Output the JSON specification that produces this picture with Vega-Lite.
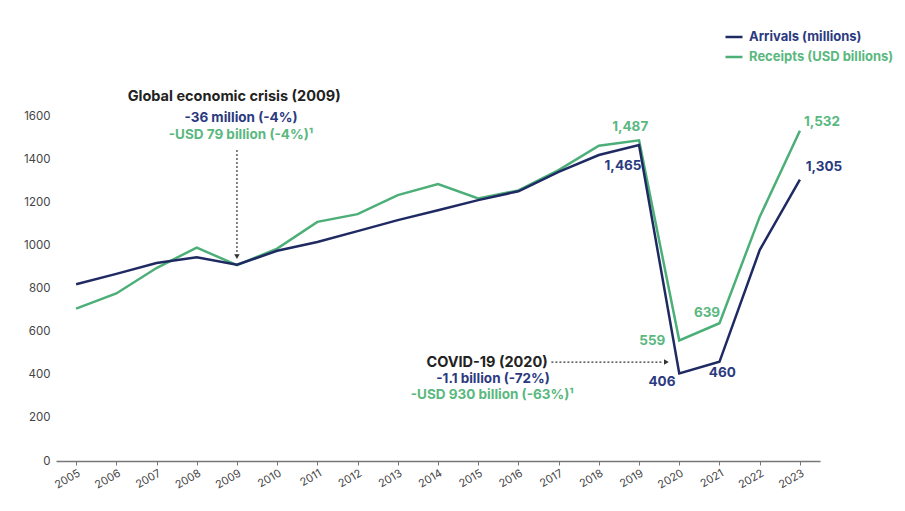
{
  "$schema": "https://vega.github.io/schema/vega-lite/v6.json",
  "width": 764,
  "height": 345,
  "autosize": {"type": "none"},
  "padding": {"left": 56, "top": 116, "right": 85, "bottom": 50},
  "background": "white",
  "config": {"view": {"stroke": null}, "font": "Inter"},
  "datasets": {
    "series": [
      {"year": 2005, "series": "Arrivals (millions)", "value": 820},
      {"year": 2006, "series": "Arrivals (millions)", "value": 868},
      {"year": 2007, "series": "Arrivals (millions)", "value": 918},
      {"year": 2008, "series": "Arrivals (millions)", "value": 945},
      {"year": 2009, "series": "Arrivals (millions)", "value": 910},
      {"year": 2010, "series": "Arrivals (millions)", "value": 975},
      {"year": 2011, "series": "Arrivals (millions)", "value": 1016},
      {"year": 2012, "series": "Arrivals (millions)", "value": 1066},
      {"year": 2013, "series": "Arrivals (millions)", "value": 1117},
      {"year": 2014, "series": "Arrivals (millions)", "value": 1163},
      {"year": 2015, "series": "Arrivals (millions)", "value": 1210},
      {"year": 2016, "series": "Arrivals (millions)", "value": 1251},
      {"year": 2017, "series": "Arrivals (millions)", "value": 1341},
      {"year": 2018, "series": "Arrivals (millions)", "value": 1419},
      {"year": 2019, "series": "Arrivals (millions)", "value": 1465},
      {"year": 2020, "series": "Arrivals (millions)", "value": 406},
      {"year": 2021, "series": "Arrivals (millions)", "value": 460},
      {"year": 2022, "series": "Arrivals (millions)", "value": 978},
      {"year": 2023, "series": "Arrivals (millions)", "value": 1305},
      {"year": 2005, "series": "Receipts (USD billions)", "value": 707},
      {"year": 2006, "series": "Receipts (USD billions)", "value": 777},
      {"year": 2007, "series": "Receipts (USD billions)", "value": 895},
      {"year": 2008, "series": "Receipts (USD billions)", "value": 990},
      {"year": 2009, "series": "Receipts (USD billions)", "value": 908},
      {"year": 2010, "series": "Receipts (USD billions)", "value": 985},
      {"year": 2011, "series": "Receipts (USD billions)", "value": 1109},
      {"year": 2012, "series": "Receipts (USD billions)", "value": 1145},
      {"year": 2013, "series": "Receipts (USD billions)", "value": 1233},
      {"year": 2014, "series": "Receipts (USD billions)", "value": 1284},
      {"year": 2015, "series": "Receipts (USD billions)", "value": 1218},
      {"year": 2016, "series": "Receipts (USD billions)", "value": 1255},
      {"year": 2017, "series": "Receipts (USD billions)", "value": 1349},
      {"year": 2018, "series": "Receipts (USD billions)", "value": 1462},
      {"year": 2019, "series": "Receipts (USD billions)", "value": 1487},
      {"year": 2020, "series": "Receipts (USD billions)", "value": 559},
      {"year": 2021, "series": "Receipts (USD billions)", "value": 639},
      {"year": 2022, "series": "Receipts (USD billions)", "value": 1132},
      {"year": 2023, "series": "Receipts (USD billions)", "value": 1532}
    ],
    "arrows": [
      {"name": "crisis", "year": 2009, "year2": 2009, "value": 1442, "value2": 958},
      {"name": "covid", "year": 2016.82, "year2": 2019.6, "value": 459, "value2": 459}
    ],
    "heads": [
      {"name": "crisis", "year": 2009, "value": 948},
      {"name": "covid", "year": 2019.68, "value": 459}
    ],
    "notes": [
      {"year": 2008.93, "value": 1688, "text": "Global economic crisis (2009)", "group": "title"},
      {"year": 2009.1, "value": 1591, "text": "-36 million (-4%)", "group": "arrivals"},
      {"year": 2009.1, "value": 1512, "text": "-USD 79 billion (-4%)¹", "group": "receipts"},
      {"year": 2015.22, "value": 455, "text": "COVID-19 (2020)", "group": "title"},
      {"year": 2015.37, "value": 380, "text": "-1.1 billion (-72%)", "group": "arrivals"},
      {"year": 2015.35, "value": 306, "text": "-USD 930 billion (-63%)¹", "group": "receipts"},
      {"year": 2018.78, "value": 1549, "text": "1,487", "group": "receipts"},
      {"year": 2018.6, "value": 1369, "text": "1,465", "group": "arrivals"},
      {"year": 2023.55, "value": 1572, "text": "1,532", "group": "receipts"},
      {"year": 2023.6, "value": 1364, "text": "1,305", "group": "arrivals"},
      {"year": 2019.33, "value": 557, "text": "559", "group": "receipts"},
      {"year": 2020.69, "value": 686, "text": "639", "group": "receipts"},
      {"year": 2019.57, "value": 366, "text": "406", "group": "arrivals"},
      {"year": 2021.07, "value": 408, "text": "460", "group": "arrivals"}
    ]
  },
  "encoding": {
    "x": {
      "field": "year", "type": "quantitative",
      "scale": {"domain": [2004.5, 2023.5], "nice": false, "zero": false},
      "axis": {
        "title": null, "grid": false, "format": "d",
        "values": [2005, 2006, 2007, 2008, 2009, 2010, 2011, 2012, 2013, 2014, 2015, 2016, 2017, 2018, 2019, 2020, 2021, 2022, 2023],
        "labelAngle": -30, "labelAlign": "right", "labelBaseline": "top",
        "labelDx": 6, "labelPadding": 2,
        "domainColor": "#777", "domainWidth": 1.5, "tickColor": "#777", "tickSize": 4,
        "labelColor": "#444", "labelFontSize": 11, "labelFlush": false, "labelOverlap": false
      }
    },
    "y": {
      "field": "value", "type": "quantitative",
      "scale": {"domain": [0, 1600], "nice": false},
      "axis": {
        "title": null, "grid": false, "domain": false, "ticks": false, "format": "d",
        "values": [0, 200, 400, 600, 800, 1000, 1200, 1400, 1600],
        "labelPadding": 6, "labelFontSize": 11.5, "labelColor": "#444"
      }
    }
  },
  "layer": [
    {
      "data": {"name": "series"},
      "transform": [{"filter": "datum.series === 'Receipts (USD billions)'"}],
      "mark": {"type": "line", "strokeWidth": 2.5},
      "encoding": {
        "color": {
          "field": "series", "type": "nominal",
          "scale": {"domain": ["Arrivals (millions)", "Receipts (USD billions)"], "range": ["#1f2a63", "#4caf78"]},
          "legend": {
            "orient": "none", "legendX": 668, "legendY": -89, "title": null,
            "symbolType": "stroke", "symbolSize": 289, "symbolStrokeWidth": 2.5,
            "labelFontSize": 13, "labelFontWeight": "bold", "rowPadding": 3, "labelOffset": 5,
            "labelLimit": 300,
            "encode": {"labels": {"update": {"fill": {"signal": "datum.value === 'Arrivals (millions)' ? '#2b3a80' : '#5ab880'"}}}}
          }
        }
      }
    },
    {
      "data": {"name": "series"},
      "transform": [{"filter": "datum.series === 'Arrivals (millions)'"}],
      "mark": {"type": "line", "strokeWidth": 2.5},
      "encoding": {"color": {"field": "series", "type": "nominal"}}
    },
    {
      "data": {"name": "arrows"},
      "mark": {"type": "rule", "color": "#333", "strokeWidth": 1.2, "strokeDash": [2, 2]},
      "encoding": {
        "x2": {"field": "year2"},
        "y2": {"field": "value2"}
      }
    },
    {
      "data": {"name": "heads"},
      "transform": [{"filter": "datum.name === 'crisis'"}],
      "mark": {"type": "point", "shape": "triangle-down", "filled": true, "color": "#333", "size": 30, "opacity": 1}
    },
    {
      "data": {"name": "heads"},
      "transform": [{"filter": "datum.name === 'covid'"}],
      "mark": {"type": "point", "shape": "triangle-right", "filled": true, "color": "#333", "size": 30, "opacity": 1}
    },
    {
      "data": {"name": "notes"},
      "transform": [{"filter": "datum.group === 'title'"}],
      "mark": {"type": "text", "align": "center", "baseline": "middle", "fontSize": 14.5, "fontWeight": "bold", "color": "#222"},
      "encoding": {"text": {"field": "text"}}
    },
    {
      "data": {"name": "notes"},
      "transform": [{"filter": "datum.group === 'arrivals'"}],
      "mark": {"type": "text", "align": "center", "baseline": "middle", "fontSize": 13.5, "fontWeight": "bold", "color": "#2b3a80"},
      "encoding": {"text": {"field": "text"}}
    },
    {
      "data": {"name": "notes"},
      "transform": [{"filter": "datum.group === 'receipts'"}],
      "mark": {"type": "text", "align": "center", "baseline": "middle", "fontSize": 13.5, "fontWeight": "bold", "color": "#5ab880"},
      "encoding": {"text": {"field": "text"}}
    }
  ]
}
